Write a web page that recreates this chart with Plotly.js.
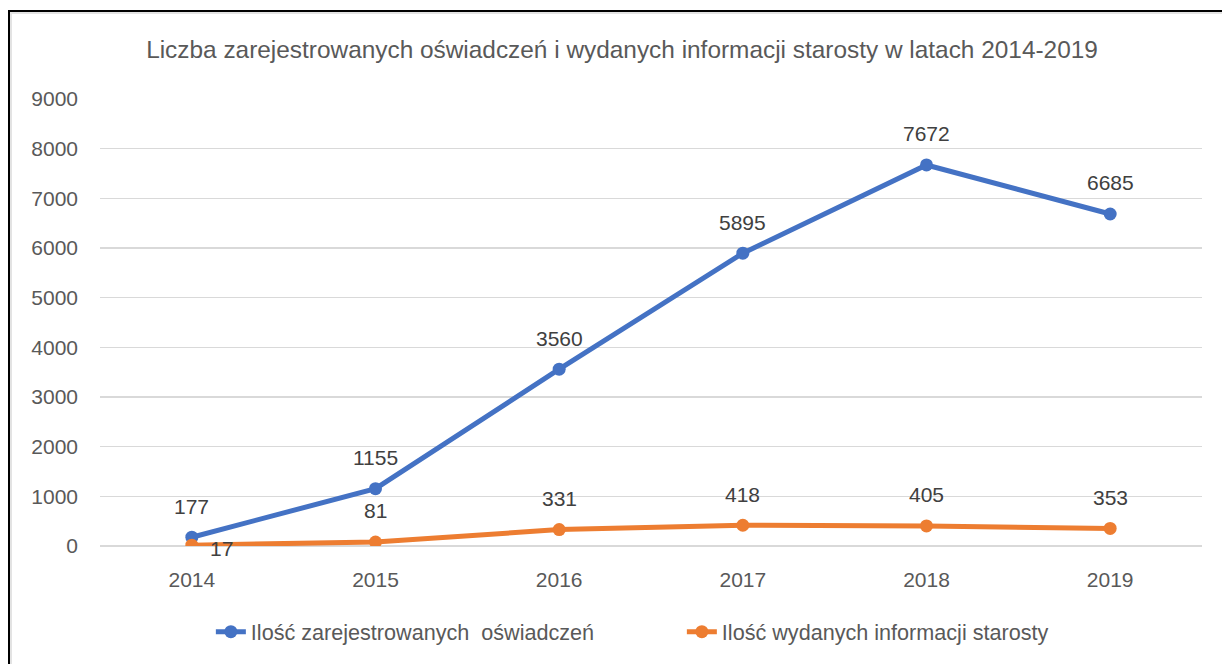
<!DOCTYPE html>
<html>
<head>
<meta charset="utf-8">
<script src="https://cdn.plot.ly/plotly-3.0.1.min.js"></script>
<style>
  body { margin: 0; background: #fff; }
  #plot { position: absolute; left: 0; top: 0; width: 1222px; height: 664px; }
  #frame {
    position: absolute; left: 8px; top: 10px; width: 1300px; height: 700px;
    border-top: 2px solid #000; border-left: 2px solid #000;
    box-shadow: inset 2px 2px 0 #e3e3e3; pointer-events: none;
  }
</style>
</head>
<body>
<div id="plot"></div>
<div id="frame"></div>
<script>
var years = ['2014', '2015', '2016', '2017', '2018', '2019'];
var oswiadczenia = [177, 1155, 3560, 5895, 7672, 6685];
var informacje = [17, 81, 331, 418, 405, 353];

var blue = '#4472C4';
var orange = '#ED7D31';
var font = 'Liberation Sans, Arial, sans-serif';

var traceA = {
    x: years,
    y: oswiadczenia,
    name: 'Ilość zarejestrowanych  oświadczeń',
    mode: 'lines+markers',
    type: 'scatter',
    line: { color: blue, width: 5 },
    marker: { color: blue, size: 13 }
};
var traceB = {
    x: years,
    y: informacje,
    name: 'Ilość wydanych informacji starosty',
    mode: 'lines+markers',
    type: 'scatter',
    line: { color: orange, width: 5 },
    marker: { color: orange, size: 13 }
};

// data labels above the points (x given as category index)
var labels = [];
years.forEach(function (yr, i) {
    labels.push({ x: i, y: oswiadczenia[i], text: String(oswiadczenia[i]),
        showarrow: false, yshift: 31, font: { size: 21, color: '#404040', family: font } });
    var lb = { x: i, y: informacje[i], text: String(informacje[i]),
        showarrow: false, yshift: 31, font: { size: 21, color: '#404040', family: font } };
    if (i === 0) { lb.yshift = -3; lb.xshift = 30; }
    labels.push(lb);
});

var layout = {
    width: 1222,
    height: 664,
    margin: { l: 100, r: 20, t: 99, b: 117 },
    paper_bgcolor: 'rgba(0,0,0,0)',
    plot_bgcolor: '#fff',
    font: { family: font, color: '#595959', size: 21 },
    title: {
        text: 'Liczba zarejestrowanych oświadczeń i wydanych informacji starosty w latach 2014-2019',
        font: { size: 24.4, color: '#595959', family: font },
        x: 0.509, xanchor: 'center', y: 0.925, yanchor: 'middle'
    },
    xaxis: {
        type: 'category',
        range: [-0.5, 5.5],
        showgrid: false,
        zeroline: false,
        showline: false,
        ticks: '',
        ticklabelstandoff: 19,
        tickfont: { size: 21, color: '#595959' }
    },
    yaxis: {
        range: [0, 9000],
        dtick: 1000,
        showgrid: true,
        gridcolor: '#D9D9D9',
        gridwidth: 1.5,
        zeroline: true,
        zerolinecolor: '#D9D9D9',
        zerolinewidth: 1.5,
        showline: false,
        ticks: '',
        ticklabelstandoff: 21,
        tickfont: { size: 21, color: '#595959' }
    },
    showlegend: true,
    legend: {
        orientation: 'h',
        x: 0.1006, xanchor: 'left',
        y: -0.19, yanchor: 'middle',
        font: { size: 21.6, color: '#595959' },
        traceorder: 'normal',
        entrywidth: 426
    },
    annotations: labels
};

Plotly.newPlot('plot', [traceA, traceB], layout, { displayModeBar: false, staticPlot: true });
</script>
</body>
</html>
